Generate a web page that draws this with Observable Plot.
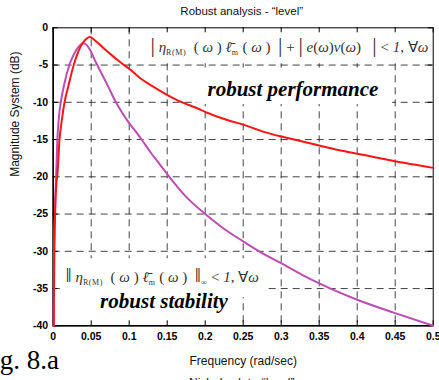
<!DOCTYPE html>
<html>
<head>
<meta charset="utf-8">
<script src="https://cdn.jsdelivr.net/npm/d3@7"></script>
<script src="https://cdn.jsdelivr.net/npm/@observablehq/plot@0.6"></script>
<style>
  html, body { margin: 0; padding: 0; background: #fff; }
  #chart { width: 439px; height: 380px; overflow: hidden; }
  #chart svg [aria-label="x-axis tick label"] text,
  #chart svg [aria-label="y-axis tick label"] text { font-weight: bold; }
</style>
</head>
<body>
<div id="chart"></div>
<script>
// Axis ticks
const xTicks = [0, 0.05, 0.1, 0.15, 0.2, 0.25, 0.3, 0.35, 0.4, 0.45, 0.5];
const yTicks = [-40, -35, -30, -25, -20, -15, -10, -5, 0];
const xGrid = [0.05, 0.1, 0.15, 0.2, 0.25, 0.3, 0.35, 0.4, 0.45];
const yGrid = [-35, -30, -25, -20, -15, -10, -5];

// Robust performance curve: |eta*l_m| + |e*v|  (dB)
const perfFreq = [0.0007, 0.0015, 0.0025, 0.0045, 0.0053, 0.0083, 0.0115, 0.0149, 0.02, 0.027, 0.033, 0.039, 0.044, 0.048,
  0.055, 0.065, 0.075, 0.088, 0.1, 0.115, 0.13, 0.148, 0.165, 0.187, 0.21, 0.23, 0.25, 0.275, 0.3, 0.325, 0.35, 0.375, 0.4, 0.425, 0.45, 0.475, 0.5];
const perfDb = [-40, -30, -25, -20.5, -20, -15, -12.3, -10, -7.8, -5, -3.2, -2.0, -1.45, -1.25,
  -1.7, -2.6, -3.5, -4.6, -5.5, -6.8, -7.8, -8.9, -9.8, -10.7, -11.7, -12.4, -13.0, -13.9, -14.6, -15.2, -15.8, -16.4, -16.9, -17.4, -17.9, -18.35, -18.8];

// Robust stability curve: ||eta*l_m||  (dB)
const stabFreq = [0.0005, 0.0012, 0.0022, 0.0038, 0.0055, 0.0075, 0.01, 0.0145, 0.0212, 0.027, 0.033, 0.0395, 0.044, 0.049,
  0.055, 0.058, 0.065, 0.071, 0.082, 0.092, 0.1, 0.11, 0.117, 0.128, 0.14, 0.152, 0.175, 0.2, 0.225, 0.249, 0.271, 0.3, 0.33, 0.365, 0.4, 0.45, 0.5];
const stabDb = [-40, -30, -25, -20, -15, -12, -10, -7.6, -5, -3.6, -2.6, -2.07, -2.3, -3.05,
  -4.4, -5, -6.4, -7.6, -9.9, -11.6, -12.8, -14.1, -15.1, -16.7, -18.3, -19.9, -22.7, -25, -27, -28.6, -30, -31.6, -33.3, -35, -36.5, -38.3, -40];

// Annotation texts and their white backing boxes (data units)
const boxX1 = [0.1255, 0.19, 0.0096, 0.0465];
const boxX2 = [0.4995, 0.4465, 0.281, 0.24];
const boxY1 = [-0.15, -5.4, -31.0, -36.2];
const boxY2 = [-4.6, -10.3, -36.2, -39.55];

const labelText = ["robust performance", "robust stability"];
const labelX = [0.3155, 0.1458];
const labelY = [-8.2, -36.7];

const formulaText = ["|η R(M) (ω) ℓ̄ m (ω)| + |e(ω)v(ω)| < 1, ∀ω", "‖η R(M) (ω) ℓ̄ m (ω)‖∞ < 1, ∀ω"];
const formulaX = [0.128, 0.0162];
const formulaY = [-2.66, -33.5];

// Typeset pieces: "i" italic, "s" subscript, "b" large bar, "" roman
const perfParts = [["|", "b"], [" ", ""], ["η", "i"], ["R(M)", "s"], ["  ( ", ""], ["ω", "i"], [" ) ", ""], ["ℓ\u0304", "i"], ["m", "s"],
  [" ( ", ""], ["ω", "i"], [" )", ""], ["  ", ""], ["|", "b"], [" + ", ""], ["|", "b"], [" ", ""], ["e", "i"], ["(", ""], ["ω", "i"], [")", ""],
  ["v", "i"], ["(", ""], ["ω", "i"], [")", ""], ["   ", ""], ["|", "b"], [" < ", ""], ["1", "i"], [", ", ""], ["∀", ""], ["ω", "i"]];
const stabParts = [["‖", "b"], [" ", ""], ["η", "i"], ["R(M)", "s"], ["  ( ", ""], ["ω", "i"], [" ) ", ""], ["ℓ\u0304", "i"], ["m", "s"],
  [" ( ", ""], ["ω", "i"], [" )", ""], ["  ", ""], ["‖", "b"], ["∞", "s"], [" < ", ""], ["1", "i"], [", ", ""], ["∀", ""], ["ω", "i"]];

const perf = perfFreq.map((f, i) => ({f, db: perfDb[i]}));
const stab = stabFreq.map((f, i) => ({f, db: stabDb[i]}));
const boxes = boxX1.map((x1, i) => ({x1, x2: boxX2[i], y1: boxY1[i], y2: boxY2[i]}));
const labels = labelText.map((t, i) => ({t, x: labelX[i], y: labelY[i]}));
const formulas = formulaText.map((t, i) => ({t, x: formulaX[i], y: formulaY[i]}));

const W = 439, H = 380;
const mL = 52.7, mR = 6.3, mT = 27.3, mB = 54.7;
const plotW = W - mL - mR, plotH = H - mT - mB;
const serif = "'Liberation Serif', 'Times New Roman', serif";
const fmt = d => String(+d.toFixed(2));

const svg = Plot.plot({
  width: W, height: H,
  marginLeft: mL, marginRight: mR, marginTop: mT, marginBottom: mB,
  x: {domain: [0, 0.5], label: null},
  y: {domain: [-40, 0], label: null},
  style: {fontFamily: "'Liberation Sans', Arial, sans-serif", fontSize: "10.5px", background: "#fff", color: "#000"},
  marks: [
    Plot.gridX(xGrid, {stroke: "#222", strokeOpacity: 0.85, strokeWidth: 1, strokeDasharray: "7,5"}),
    Plot.gridY(yGrid, {stroke: "#222", strokeOpacity: 0.85, strokeWidth: 1, strokeDasharray: "7,5"}),
    Plot.rect(boxes, {x1: "x1", x2: "x2", y1: "y1", y2: "y2", fill: "#fff"}),
    Plot.frame({stroke: "#000", strokeWidth: 1}),
    Plot.ruleX([0], {stroke: "#000", strokeWidth: 1.6}),
    Plot.ruleY([-40], {stroke: "#000", strokeWidth: 1.6}),
    // inward tick marks on all four sides
    Plot.tickX(xTicks, {x: d => d, stroke: "#000", insetTop: plotH - 5}),
    Plot.tickX(xTicks, {x: d => d, stroke: "#000", insetBottom: plotH - 5}),
    Plot.tickY(yTicks, {y: d => d, stroke: "#000", insetRight: plotW - 5}),
    Plot.tickY(yTicks, {y: d => d, stroke: "#000", insetLeft: plotW - 5}),
    Plot.axisX(xTicks, {tickSize: 0, tickPadding: 6.5, tickFormat: fmt, fontWeight: "bold", label: null}),
    Plot.axisY(yTicks, {tickSize: 0, tickPadding: 5, tickFormat: fmt, fontWeight: "bold", label: null}),
    Plot.line(stab, {x: "f", y: "db", stroke: "#bd4cb3", strokeWidth: 2, curve: "monotone-x"}),
    Plot.line(perf, {x: "f", y: "db", stroke: "#ff1414", strokeWidth: 2, curve: "monotone-x"}),
    Plot.text(formulas.slice(0, 1), {x: "x", y: "y", text: "t", textAnchor: "start", lineAnchor: "middle", fontFamily: serif, fontSize: 15, fill: "#333", className: "formula-perf"}),
    Plot.text(formulas.slice(1), {x: "x", y: "y", text: "t", textAnchor: "start", lineAnchor: "middle", fontFamily: serif, fontSize: 15, fill: "#333", className: "formula-stab"}),
    Plot.text(labels, {x: "x", y: "y", text: "t", textAnchor: "middle", lineAnchor: "middle", fontFamily: serif, fontSize: 21, fontWeight: "bold", fontStyle: "italic", fill: "#000"}),
    // titles and captions
    Plot.text(["Robust analysis - “level”"], {frameAnchor: "top", dx: -1.5, dy: -16.3, lineAnchor: "middle", fontSize: 11.5, fill: "#111"}),
    Plot.text(["Frequency (rad/sec)"], {frameAnchor: "bottom", dy: 35.7, lineAnchor: "middle", fontSize: 12, fill: "#111"}),
    Plot.text(["Magnitude System (dB)"], {frameAnchor: "left", dx: -37.7, rotate: -90, lineAnchor: "middle", fontSize: 12, fill: "#111"}),
    Plot.text(["Fig. 8.a"], {frameAnchor: "bottom-left", textAnchor: "end", dx: 5.8, dy: 34.7, lineAnchor: "middle", fontFamily: serif, fontSize: 27, fill: "#000"}),
    Plot.text(["Nichols plot - “level”"], {frameAnchor: "bottom", dx: -1.5, dy: 57, lineAnchor: "middle", fontSize: 12, fill: "#111"})
  ]
});

// Lay out the formula glyphs with italics and subscripts
function typeset(selector, parts) {
  svg.querySelectorAll(selector + " text").forEach(node => {
    node.textContent = "";
    node.style.whiteSpace = "pre";
    let shift = 0;
    for (const [str, kind] of parts) {
      const t = document.createElementNS("http://www.w3.org/2000/svg", "tspan");
      t.textContent = str;
      let target = 0;
      if (kind === "i") t.setAttribute("font-style", "italic");
      if (kind === "s") { t.setAttribute("font-size", "8px"); t.setAttribute("letter-spacing", "0.6"); target = 3; }
      if (kind === "b") t.setAttribute("font-size", "22px");
      if (target !== shift) { t.setAttribute("dy", target - shift); shift = target; }
      node.appendChild(t);
    }
  });
}
typeset(".formula-perf", perfParts);
typeset(".formula-stab", stabParts);

document.getElementById("chart").appendChild(svg);
</script>
</body>
</html>
